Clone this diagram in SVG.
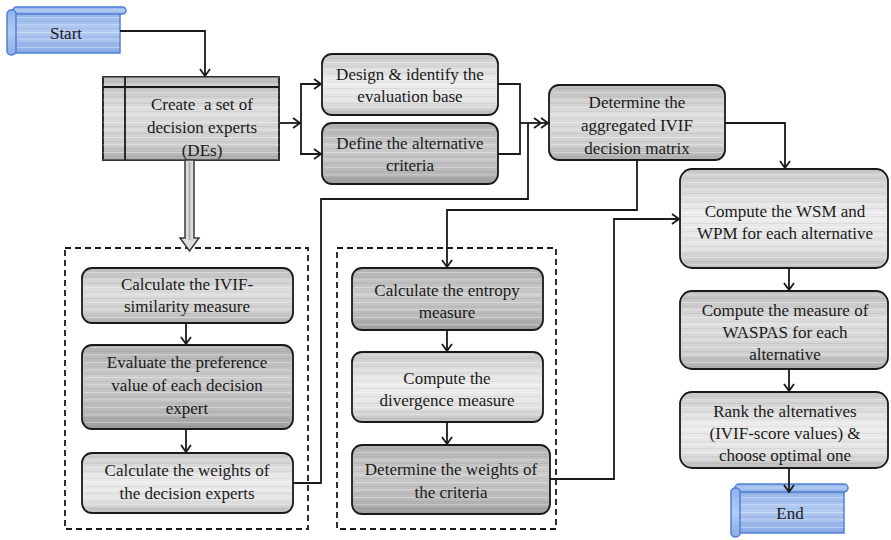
<svg xmlns="http://www.w3.org/2000/svg" width="891" height="540" viewBox="0 0 891 540">
<defs>
<linearGradient id="gLight" x1="0" y1="0" x2="0" y2="1">
<stop offset="0" stop-color="#c9c9c9"/><stop offset="0.45" stop-color="#ececec"/><stop offset="0.8" stop-color="#e2e2e2"/><stop offset="1" stop-color="#bcbcbc"/>
</linearGradient>
<linearGradient id="gMid" x1="0" y1="0" x2="0" y2="1">
<stop offset="0" stop-color="#bdbdbd"/><stop offset="0.4" stop-color="#dedede"/><stop offset="0.8" stop-color="#cfcfcf"/><stop offset="1" stop-color="#adadad"/>
</linearGradient>
<linearGradient id="gDark" x1="0" y1="0" x2="0" y2="1">
<stop offset="0" stop-color="#b0b0b0"/><stop offset="0.4" stop-color="#cbcbcb"/><stop offset="0.8" stop-color="#b9b9b9"/><stop offset="1" stop-color="#9a9a9a"/>
</linearGradient>
<linearGradient id="gBlue" x1="0" y1="0" x2="0" y2="1">
<stop offset="0" stop-color="#8fb2ea"/><stop offset="0.5" stop-color="#b3cbf2"/><stop offset="1" stop-color="#8aabe6"/>
</linearGradient>
<pattern id="streak" width="300" height="15" patternUnits="userSpaceOnUse">
<rect x="0" y="2" width="300" height="1" fill="#ffffff" opacity="0.35"/>
<rect x="0" y="6" width="300" height="1" fill="#000000" opacity="0.05"/>
<rect x="0" y="9" width="300" height="1.5" fill="#ffffff" opacity="0.25"/>
<rect x="0" y="13" width="300" height="1" fill="#000000" opacity="0.06"/>
</pattern>
<marker id="arr" markerWidth="12" markerHeight="12" refX="9" refY="6" orient="auto" markerUnits="userSpaceOnUse">
<path d="M2,1 L9,6 L2,11" fill="none" stroke="#1a1a1a" stroke-width="1.8"/>
</marker>
<marker id="arr2" markerWidth="18" markerHeight="12" refX="15" refY="6" orient="auto" markerUnits="userSpaceOnUse">
<path d="M1,1 L8,6 L1,11 M8,1 L15,6 L8,11" fill="none" stroke="#1a1a1a" stroke-width="1.8"/>
</marker>
<style>
.box{stroke:#1a1a1a;stroke-width:1.8}
.tex{fill:url(#streak);stroke:none}
.t{font-family:"Liberation Serif","Times New Roman",serif;font-size:17px;fill:#1a1a1a;text-anchor:middle}
.c{fill:none;stroke:#1a1a1a;stroke-width:1.8}
.dash{fill:none;stroke:#1a1a1a;stroke-width:1.8;stroke-dasharray:6,4}
.scroll{fill:url(#gBlue);stroke:#4f7fd6;stroke-width:1.5}
</style>
</defs>
<rect width="891" height="540" fill="#ffffff"/>

<g id="groups">
<rect class="dash" x="65" y="248" width="243" height="281"/>
<rect class="dash" x="337" y="248" width="219" height="281"/>
</g>

<g id="start">
<rect class="scroll" x="12" y="10" width="108" height="43"/>
<rect class="tex" x="12" y="10" width="108" height="43"/>
<rect class="scroll" x="13" y="7" width="113" height="7" rx="3.5"/>
<rect class="scroll" x="7" y="10" width="9" height="45" rx="4"/>
<text class="t" x="66" y="39">Start</text>
</g>

<g id="create">
<rect class="box" x="103" y="77" width="176" height="83" fill="url(#gMid)"/>
<rect class="tex" x="103" y="77" width="176" height="83"/>
<line class="c" x1="103" y1="87" x2="279" y2="87"/>
<line class="c" x1="125" y1="77" x2="125" y2="160"/>
<text class="t" x="202" y="110">Create &#160;a set of</text>
<text class="t" x="202" y="133">decision experts</text>
<text class="t" x="202" y="156">(DEs)</text>
</g>

<g id="design">
<rect class="box" x="322" y="54" width="176" height="61" rx="10" fill="url(#gLight)"/>
<rect class="tex" x="324" y="56" width="172" height="57" rx="9"/>
<text class="t" x="410" y="80">Design &amp; identify the</text>
<text class="t" x="410" y="102">evaluation base</text>
</g>

<g id="define">
<rect class="box" x="322" y="123" width="176" height="61" rx="10" fill="url(#gDark)"/>
<rect class="tex" x="324" y="125" width="172" height="57" rx="9"/>
<text class="t" x="410" y="149">Define the alternative</text>
<text class="t" x="410" y="171">criteria</text>
</g>

<g id="aggregate">
<rect class="box" x="549" y="85" width="176" height="75" rx="10" fill="url(#gMid)"/>
<rect class="tex" x="551" y="87" width="172" height="71" rx="9"/>
<text class="t" x="637" y="108">Determine the</text>
<text class="t" x="637" y="131">aggregated IVIF</text>
<text class="t" x="637" y="154">decision matrix</text>
</g>

<g id="similarity">
<rect class="box" x="82" y="268" width="211" height="55" rx="10" fill="url(#gMid)"/>
<rect class="tex" x="84" y="270" width="207" height="51" rx="9"/>
<text class="t" x="187" y="290">Calculate the IVIF-</text>
<text class="t" x="187" y="312">similarity measure</text>
</g>

<g id="preference">
<rect class="box" x="82" y="345" width="211" height="84" rx="10" fill="url(#gDark)"/>
<rect class="tex" x="84" y="347" width="207" height="80" rx="9"/>
<text class="t" x="187" y="368">Evaluate the preference</text>
<text class="t" x="187" y="391">value of each decision</text>
<text class="t" x="187" y="414">expert</text>
</g>

<g id="weightsDE">
<rect class="box" x="82" y="453" width="211" height="60" rx="10" fill="url(#gLight)"/>
<rect class="tex" x="84" y="455" width="207" height="56" rx="9"/>
<text class="t" x="187" y="476">Calculate the weights of</text>
<text class="t" x="187" y="499">the decision experts</text>
</g>

<g id="entropy">
<rect class="box" x="352" y="268" width="191" height="62" rx="10" fill="url(#gDark)"/>
<rect class="tex" x="354" y="270" width="187" height="58" rx="9"/>
<text class="t" x="447" y="296">Calculate the entropy</text>
<text class="t" x="447" y="318">measure</text>
</g>

<g id="divergence">
<rect class="box" x="352" y="352" width="191" height="70" rx="10" fill="url(#gLight)"/>
<rect class="tex" x="354" y="354" width="187" height="66" rx="9"/>
<text class="t" x="447" y="384">Compute the</text>
<text class="t" x="447" y="406">divergence measure</text>
</g>

<g id="weightsC">
<rect class="box" x="352" y="445" width="198" height="69" rx="10" fill="url(#gDark)"/>
<rect class="tex" x="354" y="447" width="194" height="65" rx="9"/>
<text class="t" x="451" y="475">Determine the weights of</text>
<text class="t" x="451" y="498">the criteria</text>
</g>

<g id="wsm">
<rect class="box" x="680" y="169" width="208" height="99" rx="12" fill="url(#gLight)"/>
<rect class="tex" x="682" y="171" width="204" height="95" rx="11"/>
<text class="t" x="785" y="217">Compute the WSM and</text>
<text class="t" x="785" y="239">WPM for each alternative</text>
</g>

<g id="waspas">
<rect class="box" x="680" y="291" width="208" height="78" rx="12" fill="url(#gMid)"/>
<rect class="tex" x="682" y="293" width="204" height="74" rx="11"/>
<text class="t" x="785" y="316">Compute the measure of</text>
<text class="t" x="785" y="338">WASPAS for each</text>
<text class="t" x="785" y="360">alternative</text>
</g>

<g id="rank">
<rect class="box" x="680" y="392" width="208" height="76" rx="12" fill="url(#gLight)"/>
<rect class="tex" x="682" y="394" width="204" height="72" rx="11"/>
<text class="t" x="785" y="417">Rank the alternatives</text>
<text class="t" x="785" y="439">(IVIF-score values) &amp;</text>
<text class="t" x="785" y="461">choose optimal one</text>
</g>

<g id="end">
<rect class="scroll" x="736" y="488" width="108" height="45"/>
<rect class="tex" x="736" y="488" width="108" height="45"/>
<rect class="scroll" x="735" y="484" width="113" height="8" rx="4"/>
<rect class="scroll" x="731" y="488" width="9" height="49" rx="4"/>
<text class="t" x="790" y="519">End</text>
</g>

<g id="connectors">
<path class="c" d="M120,31 H205 V76" marker-end="url(#arr)"/>
<path class="c" d="M279,123 H300" marker-end="url(#arr)"/>
<path class="c" d="M301,123 V84 H321" marker-end="url(#arr)"/>
<path class="c" d="M301,123 V154 H321" marker-end="url(#arr)"/>
<path class="c" d="M498,84 H520 V154 H498"/>
<path class="c" d="M520,123 H548" marker-end="url(#arr2)"/>
<path class="c" d="M293,483 H321 V199 H528 V123"/>
<path class="c" d="M725,123 H785 V168" marker-end="url(#arr)"/>
<path class="c" d="M637,160 V210 H447 V267" marker-end="url(#arr)"/>
<path class="c" d="M550,479 H614 V219 H679" marker-end="url(#arr)"/>
<path class="c" d="M186,323 V344" marker-end="url(#arr)"/>
<path class="c" d="M186,429 V452" marker-end="url(#arr)"/>
<path class="c" d="M447,330 V351" marker-end="url(#arr)"/>
<path class="c" d="M447,422 V444" marker-end="url(#arr)"/>
<path class="c" d="M789,268 V290" marker-end="url(#arr)"/>
<path class="c" d="M789,369 V391" marker-end="url(#arr)"/>
<path class="c" d="M789,468 V492" marker-end="url(#arr)"/>
<polygon points="185,160 194,160 194,238 199,238 189.5,251 180,238 185,238" fill="#dcdcdc" stroke="#3a3a3a" stroke-width="1.5"/>
<line x1="189.5" y1="162" x2="189.5" y2="240" stroke="#b0b0b0" stroke-width="2"/>
</g>
</svg>
